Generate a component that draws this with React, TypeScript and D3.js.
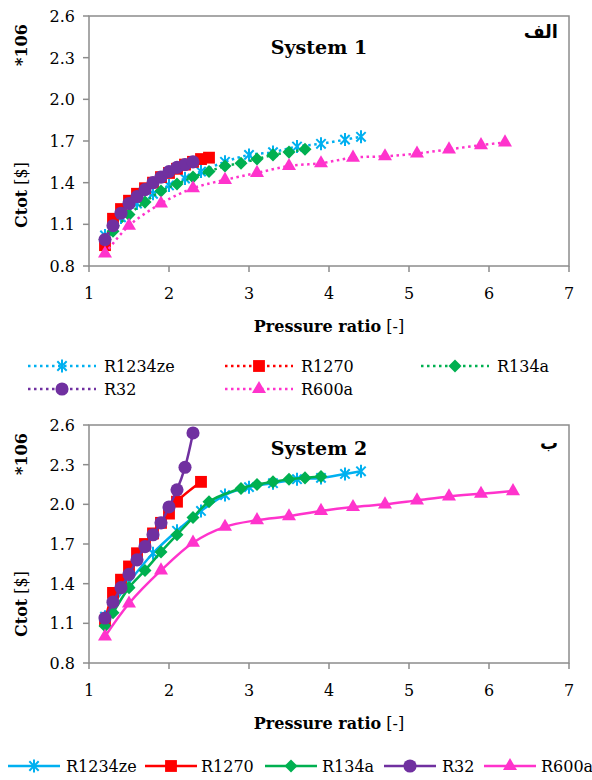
import React from 'react';
import * as d3 from 'd3';

// series names and styles
const refrigerants = ['R1234ze', 'R1270', 'R134a', 'R32', 'R600a'];
const seriesColors = ['#00B0F0', '#FF0000', '#00B050', '#7030A0', '#FF33CC'];
const markerKinds = ['star', 'square', 'diamond', 'circle', 'triangle'];

const xTicks = [1, 2, 3, 4, 5, 6, 7];
const yTicks = [0.8, 1.1, 1.4, 1.7, 2.0, 2.3, 2.6];

// System 1 (dotted)
const s1R1234zeX = [1.2, 1.4, 1.6, 1.8, 2.0, 2.2, 2.4, 2.7, 3.0, 3.3, 3.6, 3.9, 4.2, 4.4];
const s1R1234zeY = [1.02, 1.15, 1.25, 1.32, 1.38, 1.43, 1.48, 1.55, 1.6, 1.62, 1.66, 1.68, 1.71, 1.73];
const s1R1270X = [1.2, 1.3, 1.4, 1.5, 1.6, 1.7, 1.8, 1.9, 2.0, 2.1, 2.2, 2.3, 2.4, 2.5];
const s1R1270Y = [0.95, 1.14, 1.21, 1.27, 1.32, 1.36, 1.4, 1.44, 1.47, 1.5, 1.53, 1.55, 1.57, 1.58];
const s1R134aX = [1.2, 1.3, 1.5, 1.7, 1.9, 2.1, 2.3, 2.5, 2.7, 2.9, 3.1, 3.3, 3.5, 3.7];
const s1R134aY = [0.99, 1.05, 1.17, 1.26, 1.34, 1.39, 1.44, 1.48, 1.52, 1.54, 1.57, 1.6, 1.62, 1.64];
const s1R32X = [1.2, 1.3, 1.4, 1.5, 1.6, 1.7, 1.8, 1.9, 2.0, 2.1, 2.2, 2.3];
const s1R32Y = [0.99, 1.09, 1.18, 1.25, 1.3, 1.35, 1.4, 1.44, 1.48, 1.51, 1.53, 1.55];
const s1R600aX = [1.2, 1.5, 1.9, 2.3, 2.7, 3.1, 3.5, 3.9, 4.3, 4.7, 5.1, 5.5, 5.9, 6.2];
const s1R600aY = [0.89, 1.09, 1.25, 1.36, 1.42, 1.47, 1.52, 1.54, 1.58, 1.59, 1.61, 1.64, 1.67, 1.69];

// System 2 (solid)
const s2R1234zeX = [1.2, 1.5, 1.8, 2.1, 2.4, 2.7, 3.0, 3.3, 3.6, 3.9, 4.2, 4.4];
const s2R1234zeY = [1.15, 1.41, 1.63, 1.8, 1.95, 2.07, 2.13, 2.16, 2.19, 2.2, 2.23, 2.25];
const s2R1270X = [1.2, 1.3, 1.4, 1.5, 1.6, 1.7, 1.8, 1.9, 2.0, 2.1, 2.4];
const s2R1270Y = [1.12, 1.33, 1.43, 1.53, 1.63, 1.7, 1.78, 1.86, 1.93, 2.02, 2.17];
const s2R134aX = [1.2, 1.3, 1.5, 1.7, 1.9, 2.1, 2.3, 2.5, 2.9, 3.1, 3.3, 3.5, 3.7, 3.9];
const s2R134aY = [1.08, 1.18, 1.37, 1.5, 1.64, 1.77, 1.9, 2.02, 2.12, 2.15, 2.17, 2.19, 2.2, 2.21];
const s2R32X = [1.2, 1.3, 1.4, 1.5, 1.6, 1.7, 1.8, 1.9, 2.0, 2.1, 2.2, 2.3];
const s2R32Y = [1.14, 1.26, 1.37, 1.47, 1.58, 1.68, 1.77, 1.86, 1.98, 2.11, 2.28, 2.54];
const s2R600aX = [1.2, 1.5, 1.9, 2.3, 2.7, 3.1, 3.5, 3.9, 4.3, 4.7, 5.1, 5.5, 5.9, 6.3];
const s2R600aY = [1.0, 1.25, 1.5, 1.71, 1.83, 1.88, 1.91, 1.95, 1.98, 2.0, 2.03, 2.06, 2.08, 2.1];

const zip = (xs: number[], ys: number[]) => xs.map((x, i) => [x, ys[i]] as [number, number]);

const system1 = [
  zip(s1R1234zeX, s1R1234zeY),
  zip(s1R1270X, s1R1270Y),
  zip(s1R134aX, s1R134aY),
  zip(s1R32X, s1R32Y),
  zip(s1R600aX, s1R600aY),
];
const system2 = [
  zip(s2R1234zeX, s2R1234zeY),
  zip(s2R1270X, s2R1270Y),
  zip(s2R134aX, s2R134aY),
  zip(s2R32X, s2R32Y),
  zip(s2R600aX, s2R600aY),
];

const FONT = "'DejaVu Serif', 'Liberation Serif', serif";
const AXIS = '#8c8c8c';
const txt = { fontFamily: FONT };

function Marker({ kind, color, x, y }) {
  if (kind === 'star') {
    const r = 6.5;
    const d = r * 0.72;
    return (
      <path
        transform={`translate(${x},${y})`}
        d={`M0,${-r}L0,${r}M${-d},${-d}L${d},${d}M${-d},${d}L${d},${-d}`}
        stroke={color}
        strokeWidth={2}
        fill="none"
      />
    );
  }
  let path = '';
  let rot = 0;
  if (kind === 'square') path = d3.symbol(d3.symbolSquare, 140)();
  if (kind === 'diamond') {
    path = d3.symbol(d3.symbolSquare, 85)();
    rot = 45;
  }
  if (kind === 'circle') path = d3.symbol(d3.symbolCircle, 135)();
  if (kind === 'triangle') path = d3.symbol(d3.symbolTriangle, 85)();
  return <path transform={`translate(${x},${y}) rotate(${rot})`} d={path} fill={color} />;
}

function Panel({ data, dotted, top, bottom, title, titleY, tag, tagY }) {
  const x = d3.scaleLinear().domain([1, 7]).range([89, 569]);
  const y = d3.scaleLinear().domain([0.8, 2.6]).range([bottom, top]);
  const line = d3
    .line<[number, number]>()
    .x((d) => x(d[0]))
    .y((d) => y(d[1]))
    .curve(d3.curveCatmullRom.alpha(0.5));

  return (
    <g>
      {/* plot frame */}
      <rect x={89} y={top} width={480} height={bottom - top} fill="none" stroke={AXIS} strokeWidth={1.5} />
      {yTicks.map((t) => (
        <g key={t}>
          <line x1={83} x2={89} y1={y(t)} y2={y(t)} stroke={AXIS} strokeWidth={1.5} />
          <text x={75} y={y(t) + 6} textAnchor="end" fontSize={16} style={txt}>
            {t.toFixed(1)}
          </text>
        </g>
      ))}
      {xTicks.map((t) => (
        <g key={t}>
          <line x1={x(t)} x2={x(t)} y1={bottom} y2={bottom + 6} stroke={AXIS} strokeWidth={1.5} />
          <text x={x(t)} y={bottom + 33} textAnchor="middle" fontSize={16} style={txt}>
            {t}
          </text>
        </g>
      ))}
      <text x={329} y={bottom + 66} textAnchor="middle" fontSize={16} style={txt}>
        <tspan fontWeight="bold">Pressure ratio</tspan> [-]
      </text>
      <text transform={`translate(27,${top + 179}) rotate(-90)`} textAnchor="middle" fontSize={16} style={txt}>
        <tspan fontWeight="bold">Ctot</tspan> [$]
      </text>
      <text transform={`translate(27,${top + 29}) rotate(-90)`} textAnchor="middle" fontSize={16} fontWeight="bold" style={txt}>
        *106
      </text>
      <text x={319} y={titleY} textAnchor="middle" fontSize={19} fontWeight="bold" style={txt}>
        {title}
      </text>
      <text x={558} y={tagY} textAnchor="end" fontSize={18} fontWeight="bold" style={{ fontFamily: "'DejaVu Sans', sans-serif" }}>
        {tag}
      </text>

      {data.map((pts, i) => (
        <g key={refrigerants[i]}>
          <path
            d={line(pts)}
            fill="none"
            stroke={seriesColors[i]}
            strokeWidth={2.5}
            strokeDasharray={dotted ? '2.5 3.5' : undefined}
          />
          {pts.map((p, j) => (
            <Marker key={j} kind={markerKinds[i]} color={seriesColors[i]} x={x(p[0])} y={y(p[1])} />
          ))}
        </g>
      ))}
    </g>
  );
}

function LegendItem({ i, cx, cy, half, dotted, textX }) {
  return (
    <g>
      <line
        x1={cx - half}
        x2={cx + half}
        y1={cy}
        y2={cy}
        stroke={seriesColors[i]}
        strokeWidth={2.5}
        strokeDasharray={dotted ? '2.5 3.5' : undefined}
      />
      <Marker kind={markerKinds[i]} color={seriesColors[i]} x={cx} y={cy} />
      <text x={textX} y={cy + 6} fontSize={16} style={txt}>
        {refrigerants[i]}
      </text>
    </g>
  );
}

// legend layout for the dotted panel: 3 columns, 2 rows
const topLegendCols = [62, 259, 455];

export default function App() {
  return (
    <svg width={592} height={780} style={{ position: 'absolute', left: 0, top: 0, background: '#fff' }}>
      <Panel data={system1} dotted top={16} bottom={266} title="System 1" titleY={54} tag="الف" tagY={38} />
      {refrigerants.map((r, i) => (
        <LegendItem
          key={r}
          i={i}
          cx={topLegendCols[i % 3]}
          cy={i < 3 ? 366 : 389}
          half={34}
          dotted
          textX={topLegendCols[i % 3] + 42}
        />
      ))}
      <Panel data={system2} dotted={false} top={425} bottom={663} title="System 2" titleY={455} tag="ب" tagY={449} />
      {refrigerants.map((r, i) => {
        const cx = [34, 171, 291, 410, 510][i];
        const tx = [66, 201, 322, 442, 541][i];
        return <LegendItem key={r} i={i} cx={cx} cy={766} half={26} dotted={false} textX={tx} />;
      })}
    </svg>
  );
}
